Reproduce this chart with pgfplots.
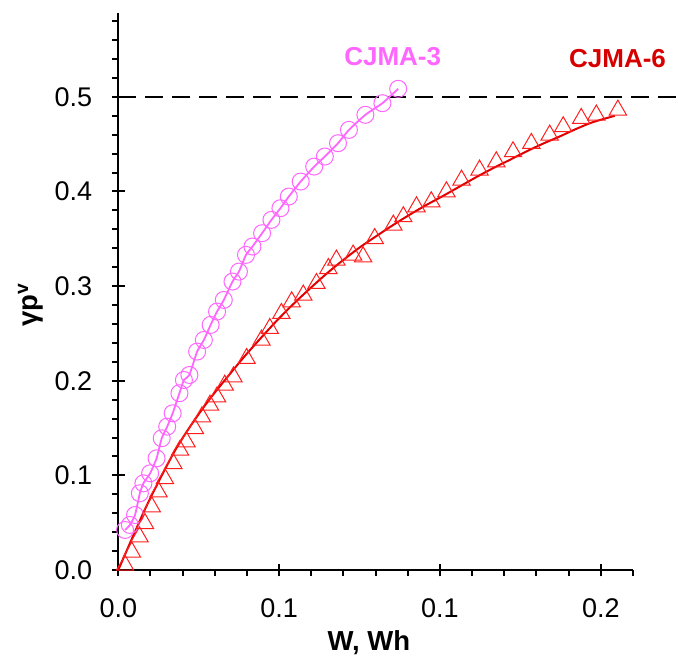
\documentclass[border=0pt]{standalone}
\usepackage{fontspec}
\setmainfont{Liberation Sans}
\usepackage{pgfplots}
\pgfplotsset{compat=1.18}
\definecolor{cjmathree}{RGB}{255,102,255}
\definecolor{cjmasixm}{RGB}{255,30,30}
\definecolor{cjmasixl}{RGB}{225,0,0}
\definecolor{cjmasixt}{RGB}{215,0,0}
\pgfplotsset{
  myframe/.style={
    at={(0,0)}, anchor=south west,
    scale only axis, width=514.7bp, height=557bp,
    xmin=0, xmax=0.16, ymin=0, ymax=0.5886,
  },
}
\begin{document}
\begin{tikzpicture}
\useasboundingbox (-118.3bp,-87bp) rectangle (559.7bp,570bp);
% crossing major ticks
\begin{axis}[
  myframe,
  axis lines=left, axis line style={draw=none},
  xtick={0.05,0.1,0.15}, ytick={0.1,0.2,0.3,0.4,0.5},
  xticklabels={}, yticklabels={},
  tick align=center, major tick length=13bp,
  every tick/.style={line width=2bp, black},
]
\addplot[draw=none] coordinates {(0,0) (0.16,0.5886)};
\end{axis}
\begin{axis}[
  myframe,
  axis lines=left, axis line style={-, line width=2.2bp, black},
  xtick={0,0.05,0.1,0.15}, xticklabels={0.0,0.1,0.1,0.2},
  ytick={0,0.1,0.2,0.3,0.4,0.5}, yticklabels={0.0,0.1,0.2,0.3,0.4,0.5},
  minor xtick={0.01,0.02,0.03,0.04,0.06,0.07,0.08,0.09,0.11,0.12,0.13,0.14,0.16},
  minor ytick={0.02,0.04,0.06,0.08,0.12,0.14,0.16,0.18,0.22,0.24,0.26,0.28,0.32,0.34,0.36,0.38,0.42,0.44,0.46,0.48,0.52,0.54,0.56,0.58},
  tick align=outside, major tick length=6bp, minor tick length=6bp,
  every tick/.style={line width=2bp, black},
  /pgf/number format/assume math mode=true,
  tick label style={font=\fontsize{27bp}{32bp}\selectfont, inner sep=0pt},
  xticklabel style={yshift=-22bp},
  yticklabel style={xshift=-20bp},
  xlabel={W, Wh},
  ylabel={γp\textsuperscript{v}},
  every axis x label/.style={at={(axis description cs:0.487,-0.131)}, anchor=center, font=\fontsize{27.5bp}{32bp}\selectfont\bfseries},
  every axis y label/.style={at={(axis description cs:-0.171,0.476)}, anchor=center, rotate=90, font=\fontsize{27.5bp}{32bp}\selectfont\bfseries},
  clip=false,
]
\addplot[black, line width=2.6bp, dash pattern=on 18bp off 9bp] coordinates {(0,0.5) (0.1738,0.5)};
% CJMA-3
\addplot[cjmathree, line width=1.8bp, smooth, tension=0.3] coordinates {
(0.0021,0.0423) (0.0036,0.0476) (0.0052,0.0581) (0.0067,0.0811) (0.0078,0.0916)
(0.0099,0.1022) (0.0119,0.1180) (0.0135,0.1392) (0.0152,0.1515) (0.0169,0.1656)
(0.0190,0.1868) (0.0204,0.2008) (0.0221,0.2061) (0.0245,0.2308) (0.0266,0.2431)
(0.0287,0.2590) (0.0307,0.2731) (0.0328,0.2854) (0.0355,0.3048) (0.0375,0.3153)
(0.0397,0.3330) (0.0417,0.3418) (0.0447,0.3559) (0.0476,0.3700) (0.0504,0.3823)
(0.0530,0.3946) (0.0567,0.4105) (0.0609,0.4263) (0.0642,0.4369) (0.0683,0.4510)
(0.0717,0.4651) (0.0768,0.4810) (0.0821,0.4933) (0.0870,0.5085)};
\addplot[only marks, mark=o, mark size=8.5bp, mark options={draw=cjmathree, line width=1bp}] coordinates {
(0.0021,0.0423) (0.0036,0.0476) (0.0052,0.0581) (0.0067,0.0811) (0.0078,0.0916)
(0.0099,0.1022) (0.0119,0.1180) (0.0135,0.1392) (0.0152,0.1515) (0.0169,0.1656)
(0.0190,0.1868) (0.0204,0.2008) (0.0221,0.2061) (0.0245,0.2308) (0.0266,0.2431)
(0.0287,0.2590) (0.0307,0.2731) (0.0328,0.2854) (0.0355,0.3048) (0.0375,0.3153)
(0.0397,0.3330) (0.0417,0.3418) (0.0447,0.3559) (0.0476,0.3700) (0.0504,0.3823)
(0.0530,0.3946) (0.0567,0.4105) (0.0609,0.4263) (0.0642,0.4369) (0.0683,0.4510)
(0.0717,0.4651) (0.0768,0.4810) (0.0821,0.4933) (0.0870,0.5085)};
% CJMA-6 markers
\addplot[only marks, mark=triangle, mark size=10bp, mark options={draw=cjmasixm, line width=1bp}] coordinates {
(0.0021,0.0051) (0.0042,0.0190) (0.0066,0.0350) (0.0083,0.0490) (0.0104,0.0667)
(0.0125,0.0826) (0.0145,0.0966) (0.0171,0.1125) (0.0192,0.1266) (0.0212,0.1354)
(0.0238,0.1495) (0.0260,0.1618) (0.0285,0.1742) (0.0307,0.1830) (0.0331,0.1953)
(0.0358,0.2041) (0.0399,0.2235) (0.0445,0.2429) (0.0471,0.2552) (0.0507,0.2711)
(0.0539,0.2834) (0.0575,0.2905) (0.0616,0.3028) (0.0653,0.3186) (0.0678,0.3275)
(0.0730,0.3328) (0.0761,0.3310) (0.0797,0.3503) (0.0855,0.3645) (0.0886,0.3733)
(0.0927,0.3838) (0.0973,0.3891) (0.1020,0.3997) (0.1067,0.4120) (0.1123,0.4226)
(0.1175,0.4314) (0.1227,0.4420) (0.1284,0.4508) (0.1341,0.4596) (0.1383,0.4684)
(0.1439,0.4772) (0.1486,0.4808) (0.1553,0.4860)};
% CJMA-6 fit
\addplot[cjmasixl, line width=2bp, smooth, tension=0.5] coordinates {
(0,0) (0.0078,0.0605) (0.0130,0.0965) (0.0181,0.1290) (0.0233,0.1565)
(0.0285,0.1810) (0.0337,0.2030) (0.0388,0.2240) (0.0440,0.2440) (0.0492,0.2632)
(0.0544,0.2810) (0.0595,0.2972) (0.0647,0.3130) (0.0699,0.3275) (0.0751,0.3410)
(0.0803,0.3530) (0.0854,0.3645) (0.0906,0.3755) (0.0958,0.3858) (0.1009,0.3952)
(0.1061,0.4052) (0.1113,0.4152) (0.1165,0.4246) (0.1217,0.4334) (0.1268,0.4422)
(0.1320,0.4505) (0.1372,0.4581) (0.1424,0.4662) (0.1475,0.4732) (0.1543,0.4799)};
\node[font=\fontsize{26bp}{30bp}\selectfont\bfseries, text=cjmathree, inner sep=0pt] at (axis cs:0.0853,0.5426) {CJMA-3};
\node[font=\fontsize{26bp}{30bp}\selectfont\bfseries, text=cjmasixt, inner sep=0pt] at (axis cs:0.1552,0.5400) {CJMA-6};
\end{axis}
\end{tikzpicture}
\end{document}
